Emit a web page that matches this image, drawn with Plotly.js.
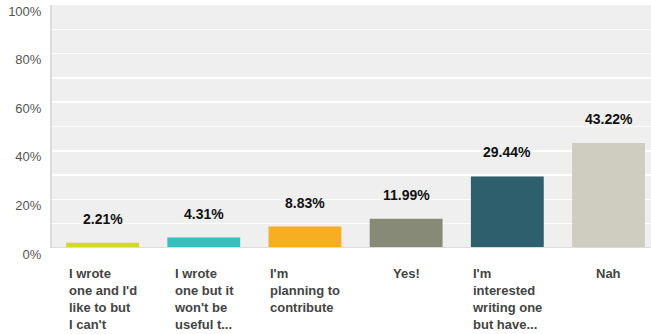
<!DOCTYPE html>
<html>
<head>
<meta charset="utf-8">
<script src="https://cdn.plot.ly/plotly-3.0.1.min.js"></script>
<style>html,body{margin:0;padding:0;background:#fff;}#chart{width:651px;height:334px;}</style>
</head>
<body>
<div id="chart"></div>
<script>
const categories = [
  "I wrote<br>one and I'd<br>like to but<br>I can't",
  "I wrote<br>one but it<br>won't be<br>useful t...",
  "I'm<br>planning to<br>contribute",
  "Yes!",
  "I'm<br>interested<br>writing one<br>but have...",
  "Nah"
];
const values = [2.21, 4.31, 8.83, 11.99, 29.44, 43.22];
const valueLabels = ["2.21%", "4.31%", "8.83%", "11.99%", "29.44%", "43.22%"];
const colors = ["#d2d82a", "#35bfbf", "#f7ae23", "#888a78", "#2e5f6c", "#cfcdbf"];
const yTickVals = [0, 10, 20, 30, 40, 50, 60, 70, 80, 90, 100];
const yTickText = ["0%", "", "20%", "", "40%", "", "60%", "", "80%", "", "100%"];

const xIdx = categories.map((_, i) => i);

const trace = {
  type: 'bar',
  x: xIdx,
  y: values,
  marker: {color: colors, line: {width: 0}},
  width: 0.72,
  hoverinfo: 'none',
  cliponaxis: false
};

const annotations = [];
values.forEach((v, i) => {
  annotations.push({
    x: i, y: v, xref: 'x', yref: 'y',
    text: valueLabels[i], showarrow: false,
    yshift: 24, xanchor: 'center', yanchor: 'middle',
    font: {family: 'Liberation Sans, Arial, sans-serif', size: 14, color: '#111', weight: 'bold'}
  });
  annotations.push({
    x: i, y: 0, xref: 'x', yref: 'paper',
    text: '<b>' + categories[i] + '</b>', showarrow: false,
    yshift: -16, xanchor: 'center', yanchor: 'top', align: 'left',
    font: {family: 'Liberation Sans, Arial, sans-serif', size: 13, color: '#444'}
  });
});

const layout = {
  width: 651, height: 334,
  margin: {l: 52, r: 0, t: 5, b: 86, pad: 0},
  paper_bgcolor: '#ffffff',
  plot_bgcolor: '#efefef',
  showlegend: false,
  xaxis: {
    range: [-0.5, 5.42],
    showticklabels: false,
    showgrid: false, zeroline: false,
    showline: false, ticks: '', fixedrange: true
  },
  yaxis: {
    range: [0, 100],
    tickvals: yTickVals,
    ticktext: yTickText,
    showgrid: true, gridcolor: '#ffffff', gridwidth: 1.5,
    zeroline: false,
    showline: true, linecolor: '#dcdcdc', linewidth: 2,
    ticks: '', ticklabelstandoff: 6, ticklabelshift: 6,
    tickfont: {family: 'Liberation Sans, Arial, sans-serif', size: 13, color: '#555'},
    fixedrange: true
  },
  shapes: [{
    type: 'line', xref: 'paper', yref: 'y', x0: 0, x1: 1, y0: 0, y1: 0,
    line: {color: '#dcdcdc', width: 2}
  }],
  annotations: annotations
};

Plotly.newPlot('chart', [trace], layout, {displayModeBar: false, staticPlot: true});
</script>
</body>
</html>
